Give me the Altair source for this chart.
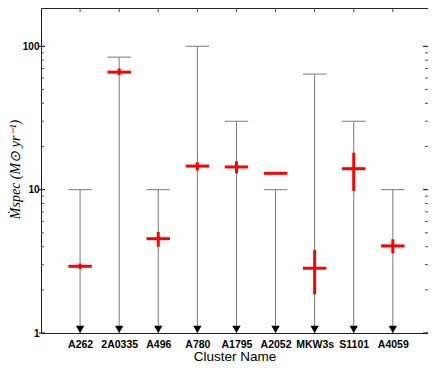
import altair as alt
import pandas as pd

# ---- data ----
names = ["A262", "2A0335", "A496", "A780", "A1795", "A2052", "MKW3s", "S1101", "A4059"]
upper = [10, 84, 10, 100, 30, 10, 64, 30, 10]          # upper limits (gray caps)
value = [2.92, 66, 4.55, 14.6, 14.4, 13.0, 2.83, 14.0, 4.05]   # spectral rate
err_lo = [2.8, 63, 4.0, 13.6, 13.0, 13.0, 1.86, 9.8, 3.6]
err_hi = [3.05, 70, 5.07, 15.5, 15.8, 13.0, 3.8, 18.1, 4.5]

major_ticks = [1, 10, 100]
minor_ticks = [2, 3, 4, 5, 6, 7, 8, 9, 20, 30, 40, 50, 60, 70, 80, 90]

W, H = 387, 325
HALF = 0.3  # half width of caps / red bars in category units

df = pd.DataFrame({
    "name": names,
    "pos": list(range(1, len(names) + 1)),
    "upper": upper,
    "value": value,
    "lo": err_lo,
    "hi": err_hi,
})
df["x_lo"] = df["pos"] - HALF
df["x_hi"] = df["pos"] + HALF
df["floor"] = 1

ticks_df = pd.DataFrame({
    "tick": major_ticks + minor_ticks,
    "kind": ["major"] * len(major_ticks) + ["minor"] * len(minor_ticks),
})

label_arr = "[" + ",".join("'" + n + "'" for n in names) + "]"

xscale = alt.Scale(domain=[0, 9.9], nice=False, zero=False)
yscale = alt.Scale(type="log", domain=[1, 185], nice=False)

x_axis = alt.Axis(
    values=list(range(1, len(names) + 1)),
    labelExpr=label_arr + "[datum.value - 1]",
    labelFont="Liberation Sans", labelFontWeight="bold", labelFontSize=10.5,
    labelColor="black", labelPadding=6, ticks=False, domain=False, grid=False,
    title="Cluster Name", titleFont="Liberation Sans", titleFontWeight="normal",
    titleFontSize=13.5, titleColor="black", titleY=27, titleBaseline="alphabetic",
)
y_axis = alt.Axis(
    values=major_ticks, format="d",
    labelFont="Liberation Sans", labelFontWeight="bold", labelFontSize=10,
    labelColor="black", labelPadding=2, ticks=False, domain=False, grid=False,
    title="Ṁspec (M⊙ yr⁻¹)", titleFont="Liberation Serif", titleFontStyle="italic",
    titleFontWeight="normal", titleFontSize=14, titleColor="black",
    titleAngle=270, titleX=-22, titleY=161, titleBaseline="alphabetic",
    titleAlign="center",
)


def X(field):
    return alt.X(field, type="quantitative", scale=xscale, axis=x_axis)


def Y(field):
    return alt.Y(field, type="quantitative", scale=yscale, axis=y_axis)


base = alt.Chart(df)

stem = base.mark_rule(color="#7a7a7a", strokeWidth=1).encode(
    x=X("pos"), y=Y("upper"), y2="floor:Q",
)
cap = base.mark_rule(color="#7a7a7a", strokeWidth=1).encode(
    x=X("x_lo"), x2="x_hi:Q", y=Y("upper"),
)
red_h = base.mark_rule(color="#ff0000", strokeWidth=3).encode(
    x=X("x_lo"), x2="x_hi:Q", y=Y("value"),
)
red_v = base.mark_rule(color="#ff0000", strokeWidth=3).encode(
    x=X("pos"), y=Y("lo"), y2="hi:Q",
)
arrows = base.mark_point(shape="triangle-down", filled=True, color="black",
                         size=70, opacity=1, yOffset=-3.6).encode(
    x=X("pos"), y=Y("floor"),
)
top_ticks = base.mark_rule(color="#444444", strokeWidth=1).encode(
    x=X("pos"), y=alt.value(0), y2=alt.value(4),
)

tb = alt.Chart(ticks_df)
left_major = tb.transform_filter("datum.kind == 'major'").mark_rule(color="black").encode(
    y=Y("tick"), x=alt.value(-2), x2=alt.value(4))
left_minor = tb.transform_filter("datum.kind == 'minor'").mark_rule(color="#555555").encode(
    y=Y("tick"), x=alt.value(0), x2=alt.value(3))
right_major = tb.transform_filter("datum.kind == 'major'").mark_rule(color="black").encode(
    y=Y("tick"), x=alt.value(W - 5), x2=alt.value(W))
right_minor = tb.transform_filter("datum.kind == 'minor'").mark_rule(color="#555555").encode(
    y=Y("tick"), x=alt.value(W - 3), x2=alt.value(W))

chart = alt.layer(
    stem, cap, top_ticks, left_major, left_minor, right_major, right_minor,
    arrows, red_h, red_v,
).properties(
    width=W, height=H,
    autosize=alt.AutoSizeParams(type="none"),
    padding={"left": 33, "top": 0, "right": 0, "bottom": 29},
).configure(
    background="white",
).configure_view(
    stroke="#222222", strokeWidth=1,
)

chart.save("out.html", embed_options={"renderer": "svg", "actions": False})
